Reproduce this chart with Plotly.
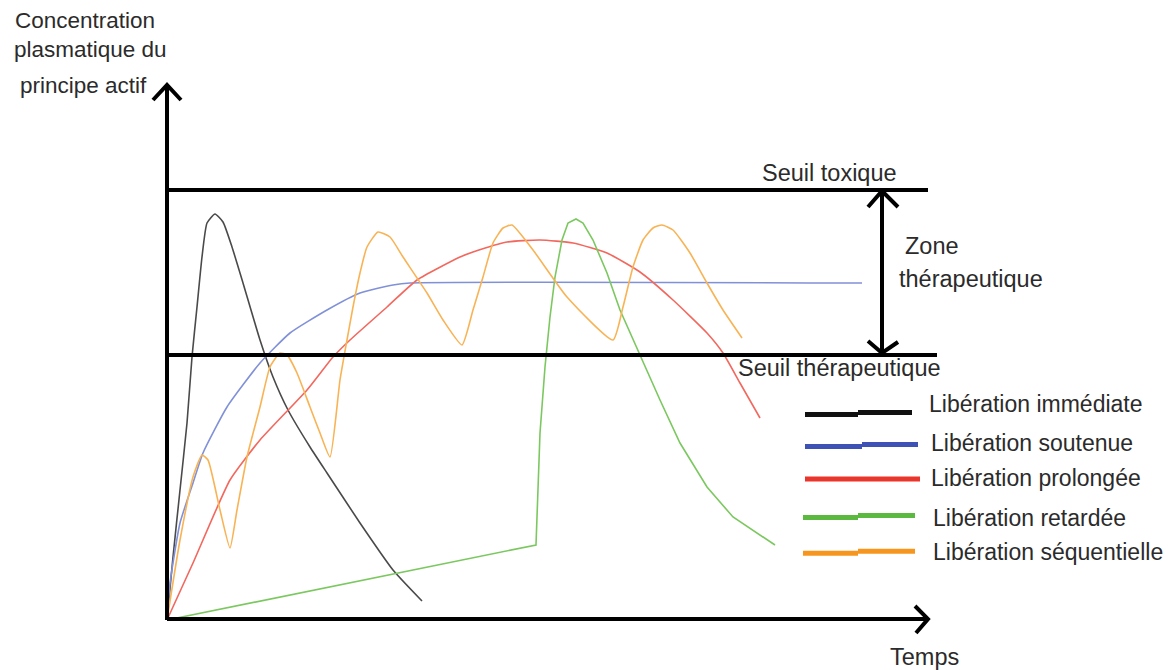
import plotly.graph_objects as go

# ---- Data (time units, concentration units) ----
t_immediate = [0, 0.6, 1.3, 2.0, 2.5, 3.0, 3.5, 4.0, 4.8, 5.6, 6.5, 7.6, 9.3, 10.6, 12.1, 14.3, 16.0, 19.3, 22.6, 25.5]
c_immediate = [0, 6.3, 13.0, 19.7, 26.3, 31.3, 36.3, 39.7, 40.6, 39.8, 37.3, 33.7, 28.0, 24.3, 21.0, 17.3, 14.7, 9.7, 5.0, 1.9]

t_soutenue = [0, 0.3, 1.3, 2.6, 3.6, 6.0, 9.3, 12.3, 16.0, 19.3, 22.6, 24.3, 69.5]
c_soutenue = [0, 3.7, 9.7, 13.7, 16.7, 21.3, 25.7, 28.7, 31.0, 32.7, 33.5, 33.7, 33.7]

t_prolongee = [0, 2.6, 6.3, 9.3, 14.0, 16.6, 18.3, 22.0, 25.0, 29.3, 30.6, 34.0, 37.3, 40.6, 44.0, 47.3, 50.6, 54.0, 55.6, 57.3, 59.3]
c_prolongee = [0, 5.7, 14.0, 18.0, 23.0, 26.3, 28.0, 31.3, 34.0, 36.3, 36.8, 37.8, 38.0, 37.7, 36.7, 34.8, 32.0, 28.7, 26.7, 23.7, 20.2]

t_retardee = [0, 36.9, 37.3, 37.8, 38.3, 38.8, 39.5, 40.1, 40.9, 41.6, 42.6, 44.0, 45.3, 46.6, 48.1, 49.3, 51.3, 54.0, 56.6, 60.8]
c_retardee = [0, 7.5, 18.7, 25.3, 30.3, 34.3, 38.0, 39.7, 40.1, 39.7, 38.0, 34.7, 31.0, 28.0, 24.7, 22.0, 17.7, 13.3, 10.3, 7.5]

t_sequentielle = [0, 1.3, 2.6, 3.5, 4.1, 5.3, 6.3, 7.0, 8.0, 9.3, 10.3, 11.3, 12.0, 13.0, 14.3, 15.3, 16.3,
                  17.3, 18.0, 18.6, 19.3, 20.0, 21.1, 22.3, 23.6, 26.0, 27.6, 29.5, 30.6, 31.6, 32.6, 33.6, 34.5,
                  36.6, 40.0, 44.6, 45.6, 46.6, 47.6, 48.6, 49.5, 50.6, 52.3, 54.0, 55.6, 57.5]
c_sequentielle = [0, 8.0, 14.3, 16.5, 16.0, 11.0, 7.2, 11.0, 16.3, 21.3, 25.3, 26.7, 26.5, 24.7, 21.3, 18.7, 16.3,
                  24.0, 28.0, 31.3, 34.7, 37.3, 38.8, 38.3, 36.3, 32.7, 30.0, 27.5, 31.0, 34.3, 37.7, 39.2, 39.5,
                  37.0, 32.3, 28.0, 31.3, 35.3, 38.0, 39.2, 39.5, 39.0, 36.7, 33.7, 31.0, 28.2]

seuil_toxique = 43.0
seuil_therapeutique = 26.5
seuil_toxique_end = 76.1
seuil_therapeutique_end = 77.0
axis_x_end = 76.1
axis_y_end = 53.5

series_names = ["Libération immédiate", "Libération soutenue", "Libération prolongée",
                "Libération retardée", "Libération séquentielle"]
curve_colors = ["#4a4a4a", "#8191d8", "#f2685e", "#7cc860", "#f8b355"]
curve_shapes = ["spline", "spline", "spline", "linear", "spline"]
legend_colors = ["#111111", "#3d52b4", "#e9352b", "#5cb93f", "#f7961f"]

series_t = [t_immediate, t_soutenue, t_prolongee, t_retardee, t_sequentielle]
series_c = [c_immediate, c_soutenue, c_prolongee, c_retardee, c_sequentielle]

W, H = 1173, 670
OFF = 8  # page body margin in the browser
FONT = "Liberation Sans, Arial, sans-serif"
TXT = "#2b2b2b"

# pixel -> data mapping for layout placement
def dx(px):
    return (px - 167) / 10.0

def dy(py):
    return (620 - py) / 10.0

fig = go.Figure()
for name, tt, cc, col, shp in zip(series_names, series_t, series_c, curve_colors, curve_shapes):
    line = dict(color=col, width=1.6, shape=shp)
    if shp == "spline":
        line["smoothing"] = 0.5
    fig.add_trace(go.Scatter(x=tt, y=cc, mode="lines", name=name, line=line,
                             showlegend=False, hoverinfo="skip"))

shapes = []
BL = dict(color="#000000", width=4)
# axes
shapes.append(dict(type="line", xref="x", yref="y", x0=0, y0=0, x1=0, y1=axis_y_end, line=BL))
shapes.append(dict(type="line", xref="x", yref="y", x0=0, y0=0.1, x1=axis_x_end, y1=0.1, line=BL))
# axis arrowheads (chevrons)
shapes.append(dict(type="path", xref="x", yref="y",
                   path=f"M {dx(153)},{dy(100)} L 0,{axis_y_end} L {dx(181)},{dy(100)}", line=BL))
shapes.append(dict(type="path", xref="x", yref="y",
                   path=f"M {dx(915)},{dy(606)} L {axis_x_end},0.1 L {dx(916)},{dy(633)}", line=BL))
# thresholds
shapes.append(dict(type="line", xref="x", yref="y", x0=0, y0=seuil_toxique, x1=seuil_toxique_end,
                   y1=seuil_toxique, line=BL))
shapes.append(dict(type="line", xref="x", yref="y", x0=0, y0=seuil_therapeutique, x1=seuil_therapeutique_end,
                   y1=seuil_therapeutique, line=BL))
# double arrow zone thérapeutique
za = dx(882)
shapes.append(dict(type="line", xref="x", yref="y", x0=za, y0=seuil_toxique - 0.1, x1=za,
                   y1=seuil_therapeutique + 0.2, line=BL))
shapes.append(dict(type="path", xref="x", yref="y",
                   path=f"M {dx(868)},{dy(207)} L {za},{seuil_toxique - 0.1} L {dx(898)},{dy(207)}", line=BL))
shapes.append(dict(type="path", xref="x", yref="y",
                   path=f"M {dx(868)},{dy(341)} L {za},{seuil_therapeutique + 0.2} L {dx(898)},{dy(342)}", line=BL))

# manual legend lines (hand drawn style with a small step)
legend_segs = [
    [(805, 858, 414.5), (858, 912, 412.5)],
    [(805, 862, 446.5), (862, 918, 444.5)],
    [(805, 920, 479.0)],
    [(803, 858, 517.5), (858, 915, 515.5)],
    [(803, 858, 553.3), (858, 915, 551.3)],
]
for segs, col in zip(legend_segs, legend_colors):
    for (x0, x1, yy) in segs:
        shapes.append(dict(type="line", xref="x", yref="y", x0=dx(x0), x1=dx(x1), y0=dy(yy), y1=dy(yy),
                           line=dict(color=col, width=5)))

FS = 23
annotations = []
def txt(text, px, py, xanchor="center", size=FS):
    annotations.append(dict(text=text, x=dx(px), y=dy(py), xref="x", yref="y", showarrow=False,
                            xanchor=xanchor, yanchor="middle",
                            font=dict(family=FONT, size=size, color=TXT)))

txt("Concentration", 85, 20, size=22.5)
txt("plasmatique du", 90, 49, size=22.5)
txt("principe actif", 83, 85, size=22.5)
txt("Seuil toxique", 829, 173, size=23.5)
txt("Zone", 903, 246, "left", size=23.5)
txt("thérapeutique", 897, 279, "left", size=23.5)
txt("Seuil thérapeutique", 839, 368, size=23.5)
txt("Temps", 924, 657, size=23.5)
legend_text_pos = [(927, 404), (929, 443), (929, 478), (931, 518), (931, 552)]
for name, (lx, ly) in zip(series_names, legend_text_pos):
    txt(name, lx, ly, "left")

fig.update_layout(
    width=W - OFF, height=H - OFF, autosize=False,
    margin=dict(l=0, r=0, t=0, b=0, pad=0),
    paper_bgcolor="white", plot_bgcolor="white",
    xaxis=dict(range=[dx(OFF), dx(W)], visible=False, fixedrange=True),
    yaxis=dict(range=[dy(H), dy(OFF)], visible=False, fixedrange=True),
    shapes=shapes, annotations=annotations, showlegend=False,
)

fig.write_html("out.html")
